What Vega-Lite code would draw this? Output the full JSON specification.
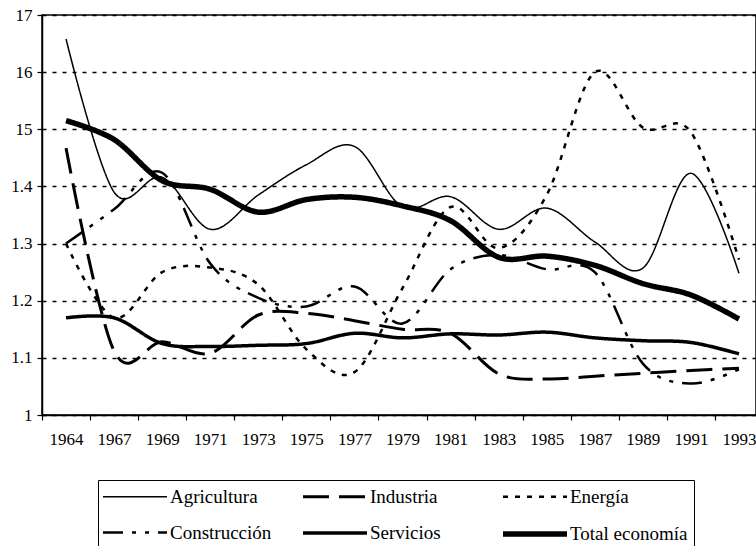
{
  "$schema": "https://vega.github.io/schema/vega-lite/v6.json",
  "width": 714,
  "height": 400,
  "autosize": {"type": "none"},
  "padding": {"left": 42, "top": 15, "right": 0, "bottom": 131},
  "background": "white",
  "config": {
    "font": "Liberation Serif",
    "view": {"stroke": "black", "strokeWidth": 1.5},
    "legend": {"labelFont": "Liberation Serif"}
  },
  "datasets": {
    "rows": [
      {"year": "1964", "series": "Agricultura", "value": 1.658},
      {"year": "1967", "series": "Agricultura", "value": 1.390},
      {"year": "1969", "series": "Agricultura", "value": 1.416},
      {"year": "1971", "series": "Agricultura", "value": 1.325},
      {"year": "1973", "series": "Agricultura", "value": 1.385},
      {"year": "1975", "series": "Agricultura", "value": 1.438},
      {"year": "1977", "series": "Agricultura", "value": 1.470},
      {"year": "1979", "series": "Agricultura", "value": 1.364},
      {"year": "1981", "series": "Agricultura", "value": 1.382},
      {"year": "1983", "series": "Agricultura", "value": 1.325},
      {"year": "1985", "series": "Agricultura", "value": 1.362},
      {"year": "1987", "series": "Agricultura", "value": 1.303},
      {"year": "1989", "series": "Agricultura", "value": 1.257},
      {"year": "1991", "series": "Agricultura", "value": 1.423},
      {"year": "1993", "series": "Agricultura", "value": 1.248},
      {"year": "1964", "series": "Industria", "value": 1.467},
      {"year": "1967", "series": "Industria", "value": 1.112},
      {"year": "1969", "series": "Industria", "value": 1.128},
      {"year": "1971", "series": "Industria", "value": 1.108},
      {"year": "1973", "series": "Industria", "value": 1.175},
      {"year": "1975", "series": "Industria", "value": 1.178},
      {"year": "1977", "series": "Industria", "value": 1.165},
      {"year": "1979", "series": "Industria", "value": 1.150},
      {"year": "1981", "series": "Industria", "value": 1.143},
      {"year": "1983", "series": "Industria", "value": 1.072},
      {"year": "1985", "series": "Industria", "value": 1.063},
      {"year": "1987", "series": "Industria", "value": 1.068},
      {"year": "1989", "series": "Industria", "value": 1.073},
      {"year": "1991", "series": "Industria", "value": 1.078},
      {"year": "1993", "series": "Industria", "value": 1.082},
      {"year": "1964", "series": "Energía", "value": 1.300},
      {"year": "1967", "series": "Energía", "value": 1.170},
      {"year": "1969", "series": "Energía", "value": 1.250},
      {"year": "1971", "series": "Energía", "value": 1.258},
      {"year": "1973", "series": "Energía", "value": 1.228},
      {"year": "1975", "series": "Energía", "value": 1.115},
      {"year": "1977", "series": "Energía", "value": 1.075},
      {"year": "1979", "series": "Energía", "value": 1.222},
      {"year": "1981", "series": "Energía", "value": 1.364},
      {"year": "1983", "series": "Energía", "value": 1.292},
      {"year": "1985", "series": "Energía", "value": 1.385},
      {"year": "1987", "series": "Energía", "value": 1.600},
      {"year": "1989", "series": "Energía", "value": 1.503},
      {"year": "1991", "series": "Energía", "value": 1.495},
      {"year": "1993", "series": "Energía", "value": 1.272},
      {"year": "1964", "series": "Construcción", "value": 1.300},
      {"year": "1967", "series": "Construcción", "value": 1.360},
      {"year": "1969", "series": "Construcción", "value": 1.424},
      {"year": "1971", "series": "Construcción", "value": 1.265},
      {"year": "1973", "series": "Construcción", "value": 1.205},
      {"year": "1975", "series": "Construcción", "value": 1.190},
      {"year": "1977", "series": "Construcción", "value": 1.225},
      {"year": "1979", "series": "Construcción", "value": 1.160},
      {"year": "1981", "series": "Construcción", "value": 1.255},
      {"year": "1983", "series": "Construcción", "value": 1.280},
      {"year": "1985", "series": "Construcción", "value": 1.255},
      {"year": "1987", "series": "Construcción", "value": 1.250},
      {"year": "1989", "series": "Construcción", "value": 1.090},
      {"year": "1991", "series": "Construcción", "value": 1.055},
      {"year": "1993", "series": "Construcción", "value": 1.080},
      {"year": "1964", "series": "Servicios", "value": 1.170},
      {"year": "1967", "series": "Servicios", "value": 1.170},
      {"year": "1969", "series": "Servicios", "value": 1.125},
      {"year": "1971", "series": "Servicios", "value": 1.120},
      {"year": "1973", "series": "Servicios", "value": 1.122},
      {"year": "1975", "series": "Servicios", "value": 1.125},
      {"year": "1977", "series": "Servicios", "value": 1.143},
      {"year": "1979", "series": "Servicios", "value": 1.135},
      {"year": "1981", "series": "Servicios", "value": 1.142},
      {"year": "1983", "series": "Servicios", "value": 1.140},
      {"year": "1985", "series": "Servicios", "value": 1.145},
      {"year": "1987", "series": "Servicios", "value": 1.135},
      {"year": "1989", "series": "Servicios", "value": 1.130},
      {"year": "1991", "series": "Servicios", "value": 1.127},
      {"year": "1993", "series": "Servicios", "value": 1.107},
      {"year": "1964", "series": "Total economía", "value": 1.515},
      {"year": "1967", "series": "Total economía", "value": 1.482},
      {"year": "1969", "series": "Total economía", "value": 1.410},
      {"year": "1971", "series": "Total economía", "value": 1.395},
      {"year": "1973", "series": "Total economía", "value": 1.355},
      {"year": "1975", "series": "Total economía", "value": 1.377},
      {"year": "1977", "series": "Total economía", "value": 1.381},
      {"year": "1979", "series": "Total economía", "value": 1.366},
      {"year": "1981", "series": "Total economía", "value": 1.340},
      {"year": "1983", "series": "Total economía", "value": 1.276},
      {"year": "1985", "series": "Total economía", "value": 1.278},
      {"year": "1987", "series": "Total economía", "value": 1.262},
      {"year": "1989", "series": "Total economía", "value": 1.230},
      {"year": "1991", "series": "Total economía", "value": 1.210},
      {"year": "1993", "series": "Total economía", "value": 1.168}
    ]
  },
  "data": {"name": "rows"},
  "mark": {"type": "line", "interpolate": "cardinal", "color": "black", "strokeCap": "butt", "strokeJoin": "round"},
  "encoding": {
    "x": {
      "field": "year",
      "type": "ordinal",
      "bandPosition": 0.5,
      "scale": {
        "type": "band",
        "paddingInner": 0,
        "paddingOuter": 0,
        "range": [0, 721],
        "domain": ["1964","1967","1969","1971","1973","1975","1977","1979","1981","1983","1985","1987","1989","1991","1993"]
      },
      "axis": {
        "title": null,
        "labelAngle": 0,
        "tickBand": "extent",
        "labelFont": "Liberation Serif",
        "labelFontSize": 17,
        "labelColor": "black",
        "labelPadding": 11,
        "tickSize": 5,
        "tickColor": "black",
        "tickWidth": 1.2,
        "domainColor": "black",
        "domainWidth": 1.5,
        "grid": false
      }
    },
    "y": {
      "field": "value",
      "type": "quantitative",
      "scale": {"domain": [1, 1.7], "nice": false, "zero": false},
      "axis": {
        "title": null,
        "values": [1, 1.1, 1.2, 1.3, 1.4, 1.5, 1.6, 1.7],
        "format": "~g",
        "labelExpr": "datum.value > 1.45 ? replace(datum.label, '.', '') : datum.label",
        "labelFont": "Liberation Serif",
        "labelFontSize": 17,
        "labelColor": "black",
        "labelPadding": 5,
        "tickSize": 5,
        "tickColor": "black",
        "tickWidth": 1.2,
        "domainColor": "black",
        "domainWidth": 1.5,
        "grid": true,
        "gridColor": "black",
        "gridDash": [4, 6],
        "gridWidth": 1.5,
        "gridOpacity": 1
      }
    },
    "strokeDash": {
      "field": "series",
      "type": "nominal",
      "scale": {
        "domain": ["Agricultura", "Industria", "Energía", "Construcción", "Servicios", "Total economía"],
        "range": [[1, 0], [26, 10], [5, 7], [20, 9, 4, 9, 4, 9], [1, 0], [1, 0]]
      },
      "legend": {
        "title": null,
        "orient": "none",
        "legendX": 56,
        "legendY": 465,
        "direction": "horizontal",
        "columns": 3,
        "gridAlign": "all",
        "columnPadding": 4,
        "rowPadding": 15,
        "padding": 6,
        "strokeColor": "black",
        "symbolType": "M-4,0H4",
        "symbolSize": 256,
        "symbolOffset": 20,
        "symbolStrokeColor": "black",
        "symbolFillColor": "transparent",
        "labelFont": "Liberation Serif",
        "labelFontSize": 19,
        "labelColor": "black",
        "labelOffset": 24,
        "labelLimit": 300
      }
    },
    "strokeWidth": {
      "field": "series",
      "type": "nominal",
      "scale": {
        "type": "ordinal",
        "domain": ["Agricultura", "Industria", "Energía", "Construcción", "Servicios", "Total economía"],
        "range": [1.5, 3, 2.5, 2.5, 3.5, 5.5]
      },
      "legend": {
        "title": null,
        "orient": "none",
        "legendX": 56,
        "legendY": 465,
        "direction": "horizontal",
        "columns": 3,
        "gridAlign": "all",
        "columnPadding": 4,
        "rowPadding": 15,
        "padding": 6,
        "strokeColor": "black",
        "symbolType": "M-4,0H4",
        "symbolSize": 256,
        "symbolOffset": 20,
        "symbolStrokeColor": "black",
        "symbolFillColor": "transparent",
        "labelFont": "Liberation Serif",
        "labelFontSize": 19,
        "labelColor": "black",
        "labelOffset": 24,
        "labelLimit": 300
      }
    }
  }
}
